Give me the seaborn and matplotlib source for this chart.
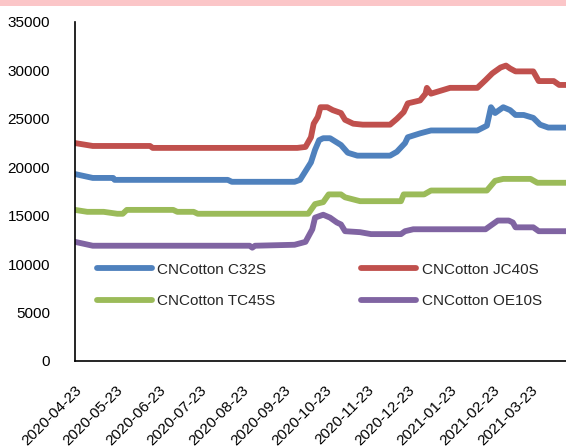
import pandas as pd
import seaborn as sns
import matplotlib.pyplot as plt
import matplotlib.dates as mdates
from matplotlib.patches import Rectangle

sns.set_style("white")
plt.rcParams['font.family'] = ['Liberation Sans', 'DejaVu Sans']

c32s_dates = ['2020-04-23', '2020-05-06', '2020-05-21', '2020-05-22', '2020-08-13', '2020-08-16',
              '2020-10-01', '2020-10-05', '2020-10-13', '2020-10-16', '2020-10-19', '2020-10-22',
              '2020-10-27', '2020-11-04', '2020-11-09', '2020-11-16', '2020-12-10', '2020-12-15',
              '2020-12-21', '2020-12-23', '2021-01-01', '2021-01-09', '2021-02-12', '2021-02-19',
              '2021-02-22', '2021-02-25', '2021-03-03', '2021-03-08', '2021-03-12', '2021-03-18',
              '2021-03-25', '2021-03-30', '2021-04-05', '2021-04-18']
c32s_values = [19300, 18900, 18900, 18700, 18700, 18500,
               18500, 18700, 20500, 21800, 22800, 23000,
               23000, 22300, 21500, 21200, 21200, 21600,
               22500, 23100, 23500, 23800, 23800, 24300,
               26200, 25600, 26200, 25900, 25400, 25400,
               25100, 24400, 24100, 24100]

jc40s_dates = ['2020-04-23', '2020-05-06', '2020-06-17', '2020-06-19', '2020-10-03', '2020-10-09',
               '2020-10-13', '2020-10-15', '2020-10-18', '2020-10-20', '2020-10-25', '2020-10-29',
               '2020-11-04', '2020-11-07', '2020-11-13', '2020-11-20', '2020-12-10', '2020-12-15',
               '2020-12-20', '2020-12-23', '2021-01-01', '2021-01-05', '2021-01-06', '2021-01-09',
               '2021-01-16', '2021-01-23', '2021-02-12', '2021-02-18', '2021-02-23', '2021-03-01',
               '2021-03-05', '2021-03-08', '2021-03-12', '2021-03-25', '2021-03-29', '2021-04-09',
               '2021-04-13', '2021-04-18']
jc40s_values = [22500, 22200, 22200, 22000, 22000, 22100,
                23100, 24500, 25200, 26200, 26200, 25900,
                25600, 24900, 24500, 24400, 24400, 25000,
                25700, 26600, 26900, 27600, 28200, 27600,
                27900, 28200, 28200, 29000, 29700, 30300,
                30500, 30200, 29900, 29900, 28900, 28900,
                28500, 28500]

tc45s_dates = ['2020-04-23', '2020-05-02', '2020-05-14', '2020-05-24', '2020-05-28', '2020-05-31',
               '2020-07-04', '2020-07-07', '2020-07-19', '2020-07-22', '2020-10-11', '2020-10-16',
               '2020-10-22', '2020-10-26', '2020-11-04', '2020-11-07', '2020-11-18', '2020-12-18',
               '2020-12-20', '2021-01-04', '2021-01-09', '2021-02-19', '2021-02-25', '2021-03-03',
               '2021-03-23', '2021-03-28', '2021-04-18']
tc45s_values = [15600, 15400, 15400, 15200, 15200, 15600,
                15600, 15400, 15400, 15200, 15200, 16200,
                16400, 17200, 17200, 16900, 16500, 16500,
                17200, 17200, 17600, 17600, 18600, 18800,
                18800, 18400, 18400]

oe10s_dates = ['2020-04-23', '2020-05-06', '2020-08-29', '2020-08-31', '2020-09-02', '2020-10-01',
               '2020-10-09', '2020-10-14', '2020-10-16', '2020-10-22', '2020-10-27', '2020-11-01',
               '2020-11-04', '2020-11-07', '2020-11-18', '2020-11-26', '2020-12-18', '2020-12-21',
               '2020-12-27', '2021-02-18', '2021-02-23', '2021-02-27', '2021-03-07', '2021-03-10',
               '2021-03-12', '2021-03-25', '2021-03-29', '2021-04-18']
oe10s_values = [12300, 11900, 11900, 11700, 11900, 12000,
                12300, 13600, 14800, 15100, 14800, 14300,
                14100, 13400, 13300, 13100, 13100, 13400,
                13600, 13600, 14100, 14500, 14500, 14300,
                13800, 13800, 13400, 13400]

series_names = ['CNCotton C32S', 'CNCotton JC40S', 'CNCotton TC45S', 'CNCotton OE10S']
colors = ['#4F81BD', '#C0504D', '#9BBB59', '#8064A2']
tick_labels = ['2020-04-23', '2020-05-23', '2020-06-23', '2020-07-23', '2020-08-23', '2020-09-23',
               '2020-10-23', '2020-11-23', '2020-12-23', '2021-01-23', '2021-02-23', '2021-03-23']

frames = []
for name, d, v in zip(series_names,
                      [c32s_dates, jc40s_dates, tc45s_dates, oe10s_dates],
                      [c32s_values, jc40s_values, tc45s_values, oe10s_values]):
    frames.append(pd.DataFrame({'date': pd.to_datetime(d), 'price': v, 'series': name}))
df = pd.concat(frames, ignore_index=True)

fig = plt.figure(figsize=(5.66, 4.46), dpi=100)
ax = fig.add_axes([0.1325, 0.1906, 0.8675, 0.7601])
fig.patches.append(Rectangle((0, 0.987), 1, 0.013, transform=fig.transFigure,
                             facecolor='#fbc6c8', edgecolor='none'))

sns.lineplot(data=df, x='date', y='price', hue='series', hue_order=series_names,
             palette=colors, linewidth=4.2, ax=ax, legend=False, estimator=None,
             solid_capstyle='round')

ax.set_ylim(0, 35000)
ax.set_yticks(range(0, 35001, 5000))
ax.set_xlim(pd.Timestamp('2020-04-23'), pd.Timestamp('2021-04-18'))
ax.set_xticks(pd.to_datetime(tick_labels))
ax.xaxis.set_major_formatter(mdates.DateFormatter('%Y-%m-%d'))
ax.set_xlabel('')
ax.set_ylabel('')

for s in ['top', 'right']:
    ax.spines[s].set_visible(False)
for s in ['left', 'bottom']:
    ax.spines[s].set_color('black')
    ax.spines[s].set_linewidth(1.2)

ax.tick_params(axis='both', direction='in', length=4, width=1.2, color='black',
               labelsize=11, labelcolor='black')
ax.tick_params(axis='y', pad=18)
ax.tick_params(axis='x', pad=16)
plt.setp(ax.get_xticklabels(), rotation=45, ha='right', rotation_mode='anchor')

# legend fills column-wise, so order handles to read row by row
order = [0, 2, 1, 3]
handles = [plt.Line2D([], [], color=colors[i], linewidth=4.2, solid_capstyle='round') for i in order]
labels = [series_names[i] for i in order]
ax.legend(handles, labels, ncol=2, frameon=False, loc='upper left',
          bbox_to_anchor=(0.045, 0.29), fontsize=11, handlelength=3.6,
          handletextpad=0.35, columnspacing=5.6, labelspacing=1.15,
          borderpad=0, borderaxespad=0)

fig.savefig('out.png', dpi=100)
